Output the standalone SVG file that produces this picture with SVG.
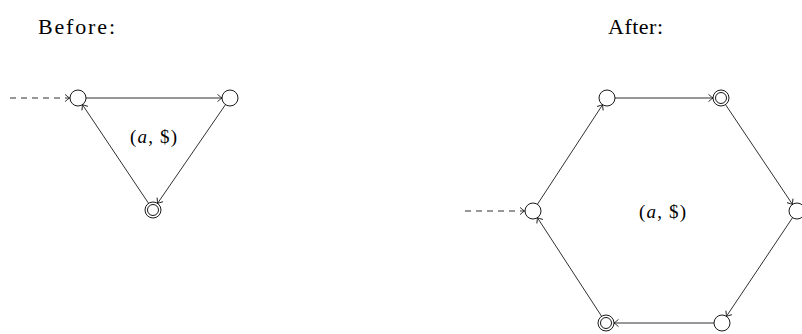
<svg xmlns="http://www.w3.org/2000/svg" width="802" height="334" viewBox="0 0 802 334">
  <style>
    .title { font-family: "Liberation Serif", "DejaVu Serif", serif; font-size: 22px; fill: #000; }
    .lbl { font-family: "Liberation Serif", "DejaVu Serif", serif; font-size: 19px; fill: #000; }
    .state { fill: #fff; stroke: #000; stroke-width: 0.9; }
    .edge { fill: none; stroke: #1a1a1a; stroke-width: 0.9; marker-end: url(#to); }
    .init { fill: none; stroke: #1a1a1a; stroke-width: 0.9; stroke-dasharray: 6 5; marker-end: url(#to); }
  </style>
  <defs>
    <marker id="to" markerUnits="userSpaceOnUse" markerWidth="12" markerHeight="12" refX="0" refY="0" viewBox="-6 -6 12 12" orient="auto" overflow="visible">
      <path d="M -4.5 -3.6 Q -1 -0.6 0 0 Q -1 0.6 -4.5 3.6" fill="none" stroke="#1a1a1a" stroke-width="0.9"/>
    </marker>
  </defs>
  <rect width="802" height="334" fill="#fff"/>

  <text class="title" x="38" y="34" textLength="77" lengthAdjust="spacing">Before:</text>
  <text class="title" x="608" y="34" textLength="55" lengthAdjust="spacing">After:</text>

  <!-- connectors -->
  <g id="connectors">
    <!-- triangle automaton -->
    <path class="init" d="M 10 98 L 69.5 98"/>
    <path class="edge" d="M 86 98 L 222 98"/>
    <path class="edge" d="M 225.5 104.6 L 157.5 203.4"/>
    <path class="edge" d="M 148.6 203.4 L 82.4 104.6"/>
    <!-- hexagon automaton -->
    <path class="init" d="M 465 211 L 524.5 211"/>
    <path class="edge" d="M 537.4 204.3 L 602.6 104.7"/>
    <path class="edge" d="M 615 98 L 713 98"/>
    <path class="edge" d="M 725.5 104.6 L 792.5 204.4"/>
    <path class="edge" d="M 792.6 217.6 L 726.4 316.4"/>
    <path class="edge" d="M 714 323 L 614 323"/>
    <path class="edge" d="M 601.6 316.3 L 537.4 217.7"/>
  </g>

  <!-- triangle states -->
  <g id="t0"><circle class="state" cx="78" cy="98" r="8"/></g>
  <g id="t1"><circle class="state" cx="230" cy="98" r="8"/></g>
  <g id="t2"><circle class="state" cx="153" cy="210" r="8"/><circle class="state" cx="153" cy="210" r="5.5"/></g>
  <text class="lbl" x="130" y="143" textLength="47" lengthAdjust="spacing">(<tspan font-style="italic">a</tspan>, $)</text>

  <!-- hexagon states -->
  <g id="h0"><circle class="state" cx="533" cy="211" r="8"/></g>
  <g id="h1"><circle class="state" cx="607" cy="98" r="8"/></g>
  <g id="h2"><circle class="state" cx="721" cy="98" r="8"/><circle class="state" cx="721" cy="98" r="5.5"/></g>
  <g id="h3"><circle class="state" cx="797" cy="211" r="8"/></g>
  <g id="h4"><circle class="state" cx="722" cy="323" r="8"/></g>
  <g id="h5"><circle class="state" cx="606" cy="323" r="8"/><circle class="state" cx="606" cy="323" r="5.5"/></g>
  <text class="lbl" x="639" y="218" textLength="47" lengthAdjust="spacing">(<tspan font-style="italic">a</tspan>, $)</text>
</svg>
